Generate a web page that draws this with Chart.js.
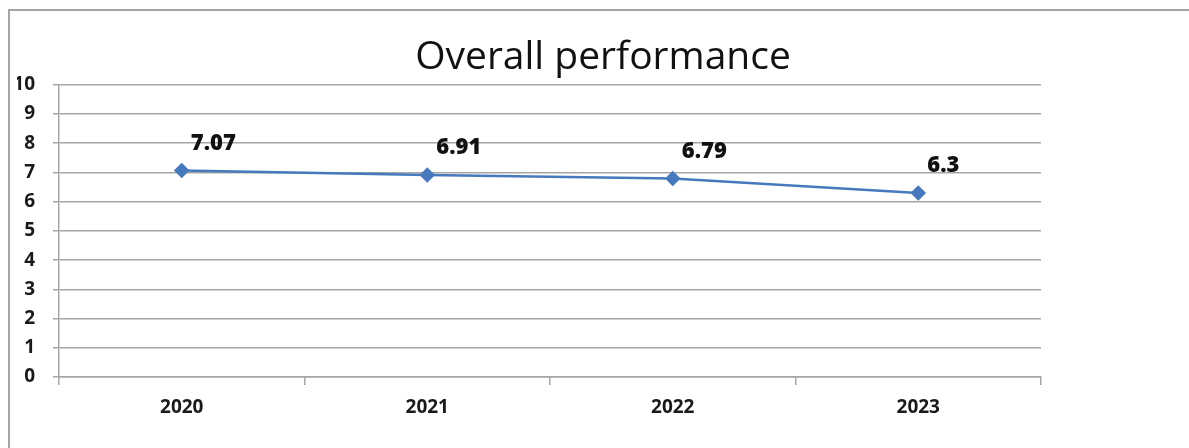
<!DOCTYPE html>
<html>
<head>
<meta charset="utf-8">
<script src="https://cdn.jsdelivr.net/npm/chart.js@4/dist/chart.umd.min.js"></script>
<style>
  html, body { margin: 0; padding: 0; background: #ffffff; }
  #wrap { position: relative; width: 1189px; height: 448px; overflow: hidden; }
  canvas { position: absolute; left: 0; top: 0; }
</style>
</head>
<body>
<div id="wrap"><canvas id="chart" width="1189" height="448"></canvas></div>
<script>
// Chart data
const years = ['2020', '2021', '2022', '2023'];
const scores = [7.07, 6.91, 6.79, 6.3];
const scoreLabels = ['7.07', '6.91', '6.79', '6.3'];
const yTicks = [0, 1, 2, 3, 4, 5, 6, 7, 8, 9, 10];

const FONT = '"Open Sans", Lato, sans-serif';
const LINE_BLUE = '#4679bd';
const GRID_GRAY = '#a6a6a6';

// Frame around the chart, running off the right and bottom edges
const framePlugin = {
  id: 'frame',
  beforeDraw(chart) {
    const ctx = chart.ctx;
    ctx.save();
    ctx.strokeStyle = '#a6a6a6';
    ctx.lineWidth = 2;
    ctx.strokeRect(9, 10, 1300, 600);
    ctx.restore();
  }
};

// Value labels above and to the right of each point
const valueLabelPlugin = {
  id: 'valueLabels',
  afterDatasetsDraw(chart) {
    const ctx = chart.ctx;
    const meta = chart.getDatasetMeta(0);
    ctx.save();
    ctx.font = '800 22px ' + FONT;
    ctx.fillStyle = '#111111';
    ctx.textAlign = 'left';
    ctx.textBaseline = 'middle';
    meta.data.forEach((pt, i) => {
      ctx.fillText(scoreLabels[i], pt.x + 9, pt.y - 27);
    });
    ctx.restore();
  }
};

new Chart(document.getElementById('chart'), {
  type: 'line',
  data: {
    labels: years,
    datasets: [{
      data: scores,
      borderColor: LINE_BLUE,
      backgroundColor: LINE_BLUE,
      borderWidth: 2.5,
      pointStyle: 'rectRot',
      pointRadius: 6,
      pointHoverRadius: 6,
      pointBackgroundColor: LINE_BLUE,
      pointBorderColor: LINE_BLUE,
      tension: 0,
      fill: false
    }]
  },
  options: {
    responsive: false,
    animation: false,
    events: [],
    layout: { padding: { left: 17, right: 0, top: 0, bottom: 0 } },
    plugins: {
      legend: { display: false },
      tooltip: { enabled: false },
      title: {
        display: true,
        text: 'Overall performance',
        color: '#111111',
        font: { family: FONT, size: 39, weight: 'normal' },
        padding: { top: 34, bottom: 4 }
      }
    },
    scales: {
      x: {
        type: 'category',
        offset: true,
        afterFit(scale) { scale.height = 71; },
        grid: {
          offset: true,
          drawOnChartArea: false,
          drawTicks: true,
          tickLength: 8,
          color: GRID_GRAY,
          lineWidth: 1.5
        },
        border: { display: true, color: GRID_GRAY, width: 1.5 },
        ticks: {
          color: '#1a1a1a',
          font: { family: FONT, size: 19, weight: 'bold' },
          padding: 11,
          maxRotation: 0
        }
      },
      y: {
        min: 0,
        max: 10,
        afterFit(scale) { scale.width = 42; },
        afterBuildTicks(scale) { scale.ticks = yTicks.map(v => ({ value: v })); },
        grid: {
          color: GRID_GRAY,
          lineWidth: 1.5,
          drawTicks: true,
          tickLength: 6
        },
        border: { display: true, color: GRID_GRAY, width: 1.5 },
        ticks: {
          color: '#1a1a1a',
          font: { family: FONT, size: 19, weight: 'bold' },
          padding: 18
        }
      },
      // empty right-hand spacer that keeps the plot clear of the right margin
      spacer: {
        type: 'linear',
        position: 'right',
        display: true,
        afterFit(scale) { scale.width = 148; },
        grid: { display: false, drawOnChartArea: false },
        border: { display: false },
        ticks: { display: false }
      }
    }
  },
  plugins: [framePlugin, valueLabelPlugin]
});
</script>
</body>
</html>
